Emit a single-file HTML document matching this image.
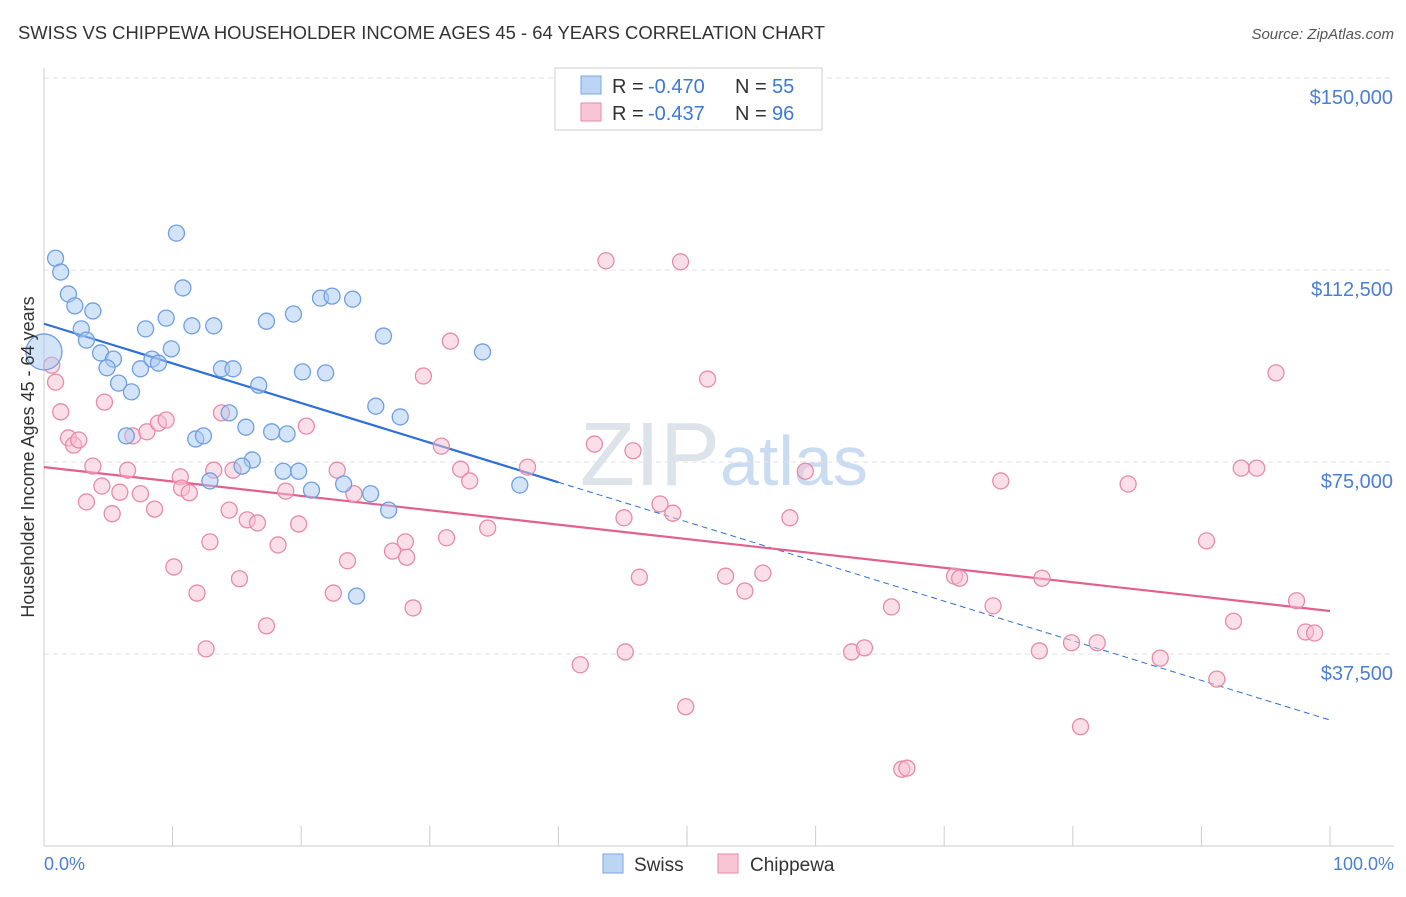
<!DOCTYPE html>
<html><head><meta charset="utf-8">
<style>
body{margin:0;background:#fff;font-family:"Liberation Sans",sans-serif;}
svg text{font-family:"Liberation Sans",sans-serif;}
</style></head>
<body>
<svg id="chart" width="1406" height="892" viewBox="0 0 1406 892">
<text x="18" y="39" font-size="18" fill="#333" textLength="807" lengthAdjust="spacingAndGlyphs">SWISS VS CHIPPEWA HOUSEHOLDER INCOME AGES 45 - 64 YEARS CORRELATION CHART</text>
<text x="1394" y="39" font-size="15" fill="#555" font-style="italic" text-anchor="end">Source: ZipAtlas.com</text>
<text x="720" y="485" font-size="90" fill="#dde3ea" text-anchor="end" font-family="Liberation Serif">ZIP</text>
<text x="720" y="485" font-size="70" fill="#c9dcf2">atlas</text>
<g id="grid"></g>
<g id="axes"></g>
<g id="trend"></g>
<g id="pts"></g>
<text transform="translate(34,457) rotate(-90)" font-size="18" fill="#333" text-anchor="middle">Householder Income Ages 45 - 64 years</text>
<text x="44" y="870" font-size="18" fill="#4a7fd4">0.0%</text>
<text x="1394" y="870" font-size="18" fill="#4a7fd4" text-anchor="end">100.0%</text>
<g>
<rect x="555" y="68" width="267" height="62" fill="#fff" stroke="#ccc"/>
<rect x="581" y="76" width="20" height="18" fill="#bcd5f5" stroke="#7aa6e0"/>
<text x="612" y="93" font-size="20" fill="#333">R =</text>
<text x="648" y="93" font-size="20" fill="#3b78d8">-0.470</text>
<text x="735" y="93" font-size="20" fill="#333">N =</text>
<text x="772" y="93" font-size="20" fill="#3b78d8">55</text>
<rect x="581" y="103" width="20" height="18" fill="#f8c5d5" stroke="#e88aa8"/>
<text x="612" y="120" font-size="20" fill="#333">R =</text>
<text x="648" y="120" font-size="20" fill="#3b78d8">-0.437</text>
<text x="735" y="120" font-size="20" fill="#333">N =</text>
<text x="772" y="120" font-size="20" fill="#3b78d8">96</text>
</g>
<g>
<rect x="603" y="854" width="20" height="19" fill="#bcd5f5" stroke="#7aa6e0"/>
<text x="634" y="871" font-size="19" fill="#333">Swiss</text>
<rect x="718" y="854" width="20" height="19" fill="#f8c5d5" stroke="#e88aa8"/>
<text x="750" y="871" font-size="19" fill="#333">Chippewa</text>
</g>
</svg>
<script>
const yTicks=[150000,112500,75000,37500];
const yTickLabels=["$150,000","$112,500","$75,000","$37,500"];
const xTicks=[0,10,20,30,40,50,60,70,80,90,100];
const swissX=[0.9,1.3,1.9,2.4,3.8,2.9,3.3,4.4,5.4,4.9,5.8,6.8,7.5,7.9,8.4,8.9,9.9,9.5,10.3,10.8,11.5,13.2,13.8,14.7,16.7,11.8,12.4,6.4,14.4,15.7,16.2,15.4,12.9,17.3,19.4,17.7,18.9,20.1,21.5,22.4,24.0,21.9,18.6,19.8,20.8,23.3,25.4,25.8,26.4,27.7,26.8,24.3,34.1,37.0];
const swissY=[114.8,112.1,107.8,105.5,104.5,101.0,98.8,96.3,95.1,93.4,90.4,88.7,93.2,101.0,95.1,94.3,97.1,103.1,119.7,109.0,101.6,101.6,93.2,93.2,90.0,79.5,80.1,80.1,84.6,81.8,75.4,74.2,71.3,102.5,103.9,80.9,80.5,92.6,107.0,107.4,106.8,92.4,73.2,73.2,69.5,70.7,68.8,85.9,99.6,83.8,65.6,48.8,96.5,70.5];
const chipX=[0.6,0.9,1.3,1.9,2.3,2.7,3.3,3.8,4.5,5.3,4.7,5.9,6.5,6.9,7.5,8.0,8.6,8.9,9.5,10.1,10.6,10.7,11.3,11.9,12.6,12.9,13.2,13.8,14.4,14.7,15.2,15.8,16.6,17.3,18.2,18.8,19.8,20.4,22.5,22.8,23.6,24.1,27.1,28.1,28.2,28.7,29.5,30.9,31.3,31.6,32.4,33.1,34.5,37.6,41.7,42.8,43.7,45.1,45.2,45.8,46.3,47.9,48.9,49.5,49.9,51.6,53.0,54.5,55.9,58.0,59.2,62.8,63.8,65.9,66.7,67.1,70.8,71.2,73.8,74.4,77.4,77.6,79.9,80.6,81.9,84.3,86.8,90.4,91.2,92.5,93.1,94.3,95.8,97.4,98.1,98.8];
const chipY=[93.9,90.6,84.8,79.7,78.3,79.3,67.2,74.2,70.3,64.9,86.7,69.1,73.4,80.1,68.8,80.9,65.8,82.6,83.2,54.5,72.1,69.9,69.0,49.4,38.5,59.4,73.4,84.6,65.6,73.4,52.2,63.7,63.1,43.0,58.8,69.3,62.9,82.0,49.4,73.4,55.7,68.8,57.6,59.4,56.4,46.5,91.8,78.1,60.2,98.6,73.6,71.3,62.1,74.0,35.4,78.5,114.3,64.1,37.9,77.2,52.5,66.8,65.0,114.1,27.2,91.2,52.7,49.8,53.3,64.1,73.2,37.9,38.7,46.7,15.0,15.2,52.7,52.3,46.9,71.3,38.1,52.3,39.7,23.3,39.7,70.7,36.7,59.6,32.6,43.9,73.8,73.8,92.4,47.9,41.8,41.6];
const swissTrend=[102.0,24.6];
const chipTrend=[74.0,45.9];
const NS="http://www.w3.org/2000/svg";
const xs=v=>44+v*12.86;
const ys=v=>78+(150-v)/37.5*192;
function mk(t,a,p){const e=document.createElementNS(NS,t);for(const k in a)e.setAttribute(k,a[k]);document.getElementById(p).appendChild(e);return e;}
yTicks.forEach((t,i)=>{
 const y=ys(t/1000);
 const l=mk('line',{x1:44,x2:1394,y1:y,y2:y,stroke:'#e2e2e2','stroke-dasharray':'5,4'},'grid');
 
 
 const tx=mk('text',{x:1393,y:y+26,'font-size':20,fill:'#4a7fd4','text-anchor':'end'},'grid');
 tx.textContent=yTickLabels[i];
 
 
});
const ax=mk('line',{x1:44,x2:44,y1:68,y2:846,stroke:'#ccc'},'axes');


const bx=mk('line',{x1:44,x2:1394,y1:846,y2:846,stroke:'#ccc'},'axes');


xTicks.forEach(t=>{
 const l=mk('line',{x1:xs(t),x2:xs(t),y1:826,y2:846,stroke:'#ccc'},'axes');
 
 
});
function pt(x,y,r,f,s,n){
 const c=mk('circle',{cx:xs(x),cy:ys(y),r:r,fill:f,'fill-opacity':0.5,stroke:s,'stroke-width':1.3},'pts');
 
 
}
chipX.forEach((x,i)=>pt(x,chipY[i],8,'#f7c0d2','#e88aa8','chippewa-point'));
swissX.forEach((x,i)=>pt(x,swissY[i],8,'#a9c9f2','#6f9fe0','swiss-point'));
pt(0,96.5,18,'#a9c9f2','#6f9fe0','swiss-point');
const sy=x=>swissTrend[0]+(swissTrend[1]-swissTrend[0])*x/100;
const t1=mk('line',{x1:xs(0),y1:ys(sy(0)),x2:xs(40),y2:ys(sy(40)),stroke:'#2f6fd6','stroke-width':2.2},'trend');


const t2=mk('line',{x1:xs(40),y1:ys(sy(40)),x2:xs(100),y2:ys(sy(100)),stroke:'#2f6fd6','stroke-width':1,'stroke-dasharray':'6,4'},'trend');


const t3=mk('line',{x1:xs(0),y1:ys(chipTrend[0]),x2:xs(100),y2:ys(chipTrend[1]),stroke:'#e2608e','stroke-width':2.2},'trend');


</script>
</body></html>
